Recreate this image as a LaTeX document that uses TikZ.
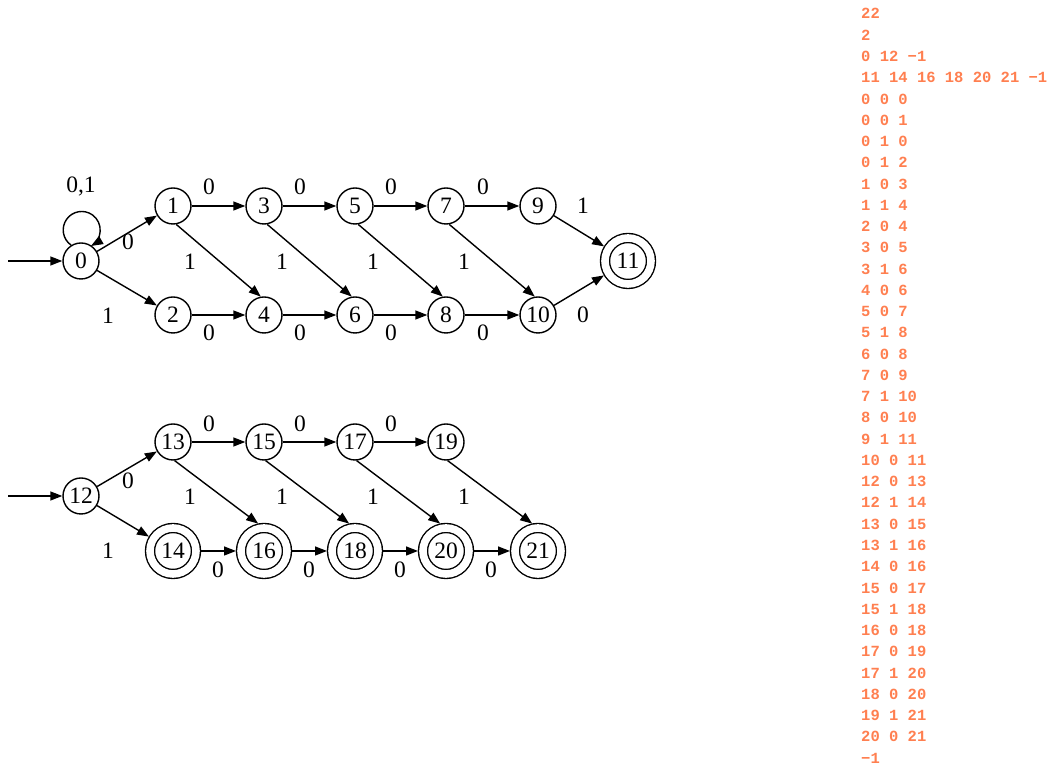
\documentclass[tikz,border=0pt]{standalone}
\usepackage{fontspec}
\setmainfont{Liberation Serif}
\newfontfamily\codefont{Liberation Mono}
\usetikzlibrary{arrows.meta}
\definecolor{coral}{HTML}{FF7F50}
\begin{document}
\begin{tikzpicture}[x=1pt,y=1pt,
  st/.style={circle,draw,line width=1.4pt,minimum size=36pt,inner sep=0pt,font=\fontsize{23.5}{26}\selectfont},
  acc/.style={st,double,double distance=7.6pt,minimum size=46pt,outer sep=5pt},
  arr/.style={line width=1.4pt,-{Triangle[length=12pt,width=9pt]}},
  lbl/.style={inner sep=0pt,font=\fontsize{23.5}{26}\selectfont},
  code/.style={inner sep=0pt,anchor=base west,text=coral,font=\codefont\bfseries\fontsize{15.5}{18}\selectfont}]
\useasboundingbox (0,0) rectangle (1053,767);
% upper automaton
\node[st] (n0) at (81,506) {0};
\node[st] (n1) at (173,561) {1};
\node[st] (n2) at (173,452) {2};
\node[st] (n3) at (264,561) {3};
\node[st] (n4) at (264,452) {4};
\node[st] (n5) at (355,561) {5};
\node[st] (n6) at (355,452) {6};
\node[st] (n7) at (446,561) {7};
\node[st] (n8) at (446,452) {8};
\node[st] (n9) at (538,561) {9};
\node[st] (n10) at (538,452) {10};
\node[acc] (n11) at (628,506) {11};
\coordinate (i0) at (8,506);
\draw[arr] (i0) -- (n0);
\draw[arr] (n0.122) arc[start angle=235, end angle=-60, radius=18.5];
\node[lbl] (l00) at (81,580) {0,1};
\draw[arr] (n0) -- (n1); \node[lbl] (l01) at (128,525) {0};
\draw[arr] (n0) -- (n2); \node[lbl] (l02) at (108,451) {1};
\draw[arr] (n1) -- (n3); \node[lbl] (l13) at (209,580) {0};
\draw[arr] (n3) -- (n5); \node[lbl] (l35) at (300,580) {0};
\draw[arr] (n5) -- (n7); \node[lbl] (l57) at (391,580) {0};
\draw[arr] (n7) -- (n9); \node[lbl] (l79) at (483,580) {0};
\draw[arr] (n2) -- (n4); \node[lbl] (l24) at (209,434) {0};
\draw[arr] (n4) -- (n6); \node[lbl] (l46) at (300,434) {0};
\draw[arr] (n6) -- (n8); \node[lbl] (l68) at (391,434) {0};
\draw[arr] (n8) -- (n10); \node[lbl] (l810) at (483,434) {0};
\draw[arr] (n1.-80) -- (n4.100); \node[lbl] (l14) at (190,505) {1};
\draw[arr] (n3.-80) -- (n6.100); \node[lbl] (l36) at (282,505) {1};
\draw[arr] (n5.-80) -- (n8.100); \node[lbl] (l58) at (373,505) {1};
\draw[arr] (n7.-80) -- (n10.100); \node[lbl] (l710) at (464,505) {1};
\draw[arr] (n9) -- (n11); \node[lbl] (l911) at (583,561) {1};
\draw[arr] (n10) -- (n11); \node[lbl] (l1011) at (583,452) {0};
% lower automaton
\node[st] (n12) at (81,271) {12};
\node[st] (n13) at (173,325) {13};
\node[acc] (n14) at (173,216) {14};
\node[st] (n15) at (264,325) {15};
\node[acc] (n16) at (264,216) {16};
\node[st] (n17) at (355,325) {17};
\node[acc] (n18) at (355,216) {18};
\node[st] (n19) at (446,325) {19};
\node[acc] (n20) at (446,216) {20};
\node[acc] (n21) at (538,216) {21};
\coordinate (i12) at (8,271);
\draw[arr] (i12) -- (n12);
\draw[arr] (n12) -- (n13); \node[lbl] (l1213) at (128,286) {0};
\draw[arr] (n12) -- (n14); \node[lbl] (l1214) at (108,216) {1};
\draw[arr] (n13) -- (n15); \node[lbl] (l1315) at (209,343) {0};
\draw[arr] (n15) -- (n17); \node[lbl] (l1517) at (300,343) {0};
\draw[arr] (n17) -- (n19); \node[lbl] (l1719) at (391,343) {0};
\draw[arr] (n13.-85) -- (n16.102); \node[lbl] (l1316) at (190,270) {1};
\draw[arr] (n15.-85) -- (n18.102); \node[lbl] (l1518) at (282,270) {1};
\draw[arr] (n17.-85) -- (n20.102); \node[lbl] (l1720) at (373,270) {1};
\draw[arr] (n19.-85) -- (n21.102); \node[lbl] (l1921) at (464,270) {1};
\draw[arr] (n14) -- (n16); \node[lbl] (l1416) at (218,197) {0};
\draw[arr] (n16) -- (n18); \node[lbl] (l1618) at (309,197) {0};
\draw[arr] (n18) -- (n20); \node[lbl] (l1820) at (400,197) {0};
\draw[arr] (n20) -- (n21); \node[lbl] (l2021) at (491,197) {0};
% text listing
\foreach \t [count=\i] in {22,2,{0 12 −1},{11 14 16 18 20 21 −1},
  {0 0 0},{0 0 1},{0 1 0},{0 1 2},{1 0 3},{1 1 4},{2 0 4},{3 0 5},{3 1 6},
  {4 0 6},{5 0 7},{5 1 8},{6 0 8},{7 0 9},{7 1 10},{8 0 10},{9 1 11},{10 0 11},
  {12 0 13},{12 1 14},{13 0 15},{13 1 16},{14 0 16},{15 0 17},{15 1 18},
  {16 0 18},{17 0 19},{17 1 20},{18 0 20},{19 1 21},{20 0 21},{−1}}
  \node[code] (t\i) at (861,{748-(\i-1)*21.26}) {\t};
\end{tikzpicture}
\end{document}
